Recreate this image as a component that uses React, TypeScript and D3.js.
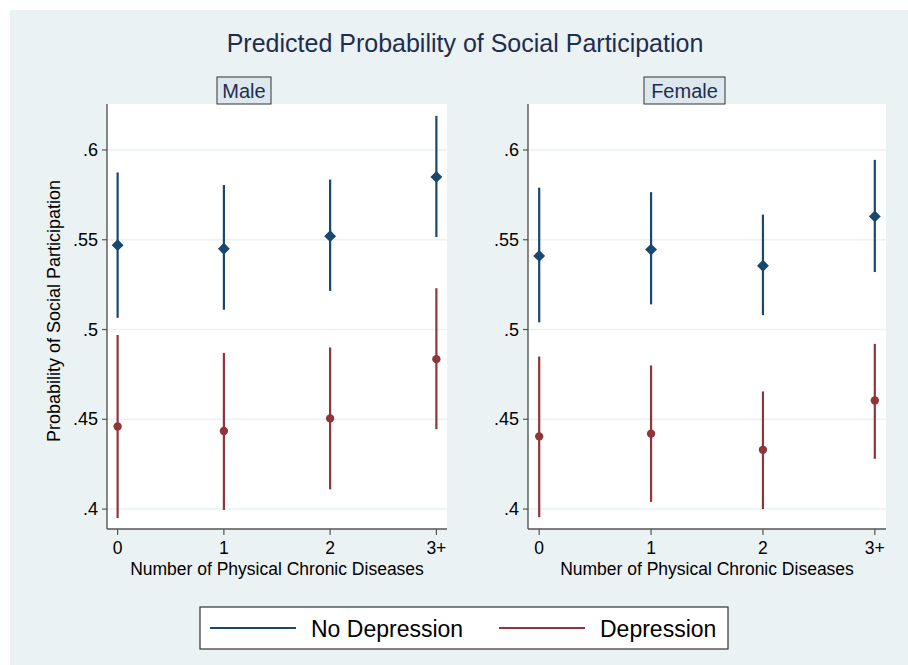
import React from "react";
import * as d3 from "d3";

// categories on the x axis
const categories = ["0", "1", "2", "3+"];
const yTicks = [0.4, 0.45, 0.5, 0.55, 0.6];
const yTickLabels = [".4", ".45", ".5", ".55", ".6"];

// Male
const maleNoDep = [0.547, 0.545, 0.552, 0.585];
const maleNoDepLo = [0.5065, 0.511, 0.5215, 0.5515];
const maleNoDepHi = [0.5875, 0.5805, 0.5835, 0.619];
const maleDep = [0.446, 0.4435, 0.4505, 0.4835];
const maleDepLo = [0.395, 0.3995, 0.411, 0.4445];
const maleDepHi = [0.497, 0.487, 0.49, 0.523];

// Female
const femaleNoDep = [0.541, 0.5445, 0.5355, 0.563];
const femaleNoDepLo = [0.504, 0.514, 0.508, 0.532];
const femaleNoDepHi = [0.579, 0.5765, 0.564, 0.5945];
const femaleDep = [0.4405, 0.442, 0.433, 0.4605];
const femaleDepLo = [0.3955, 0.404, 0.4, 0.428];
const femaleDepHi = [0.485, 0.48, 0.4655, 0.492];

const W = 908;
const H = 665;
const NAVY = "#1a476f";
const MAROON = "#90353b";
const BG = "#eaf2f3";
const FONT = "'Liberation Sans', Arial, sans-serif";

const panels = [
  {
    name: "Male",
    left: 107, right: 447, strip: 244, stripW: 54,
    series: [
      { est: maleNoDep, lo: maleNoDepLo, hi: maleNoDepHi, color: NAVY, shape: "diamond" },
      { est: maleDep, lo: maleDepLo, hi: maleDepHi, color: MAROON, shape: "circle" },
    ],
  },
  {
    name: "Female",
    left: 528, right: 886, strip: 684.5, stripW: 81,
    series: [
      { est: femaleNoDep, lo: femaleNoDepLo, hi: femaleNoDepHi, color: NAVY, shape: "diamond" },
      { est: femaleDep, lo: femaleDepLo, hi: femaleDepHi, color: MAROON, shape: "circle" },
    ],
  },
];

const top = 104;
const bottom = 529;
const y = d3.scaleLinear().domain([0.3889, 0.6256]).range([bottom, top]);

const diamond = d3.symbol().type(d3.symbolDiamond2).size(90)();
const circle = d3.symbol().type(d3.symbolCircle).size(55)();

function Panel({ p }: { p: any }) {
  const x = d3.scaleLinear().domain([-0.1, 3.1]).range([p.left, p.right]);
  return (
    <g>
      <rect x={p.left} y={top} width={p.right - p.left} height={bottom - top} fill="#fff" />
      {yTicks.map((t) => (
        <line key={t} x1={p.left} x2={p.right} y1={y(t)} y2={y(t)} stroke={BG} strokeWidth={1.6} />
      ))}
      {/* strip label */}
      <rect x={p.strip - p.stripW / 2} y={77} width={p.stripW} height={27} fill="#dce8ee" stroke="#333" strokeWidth={1} />
      <text x={p.strip} y={98} textAnchor="middle" fontSize={20} fill="#1f2d50" fontFamily={FONT}>{p.name}</text>
      {/* y axis */}
      <line x1={p.left} x2={p.left} y1={top} y2={bottom} stroke="#555" strokeWidth={1.4} />
      {yTicks.map((t, i) => (
        <g key={t}>
          <line x1={p.left - 5} x2={p.left} y1={y(t)} y2={y(t)} stroke="#555" strokeWidth={1.2} />
          <text x={p.left - 9} y={y(t) + 6} textAnchor="end" fontSize={18} fontFamily={FONT} fill="#000">{yTickLabels[i]}</text>
        </g>
      ))}
      {/* x axis */}
      <line x1={p.left} x2={p.right} y1={bottom} y2={bottom} stroke="#555" strokeWidth={1.4} />
      {categories.map((c, i) => (
        <g key={c}>
          <line x1={x(i)} x2={x(i)} y1={bottom} y2={bottom + 6} stroke="#555" strokeWidth={1.2} />
          <text x={x(i)} y={554} textAnchor="middle" fontSize={17.5} fontFamily={FONT} fill="#000">{c}</text>
        </g>
      ))}
      <text x={(p.left + p.right) / 2} y={575} textAnchor="middle" fontSize={17.5} fontFamily={FONT} fill="#000">
        Number of Physical Chronic Diseases
      </text>
      {p.series.map((s: any, si: number) => (
        <g key={si}>
          {s.est.map((v: number, i: number) => (
            <g key={i}>
              <line x1={x(i)} x2={x(i)} y1={y(s.lo[i])} y2={y(s.hi[i])} stroke={s.color} strokeWidth={2.2} />
              <path
                d={s.shape === "diamond" ? diamond : circle}
                transform={`translate(${x(i)},${y(v)})`}
                fill={s.color}
              />
            </g>
          ))}
        </g>
      ))}
    </g>
  );
}

export default function App() {
  return (
    <svg
      width={W}
      height={H}
      style={{ position: "absolute", left: 0, top: 0, display: "block" }}
    >
      <rect x={0} y={0} width={W} height={H} fill="#fff" />
      <rect x={10} y={10} width={W - 10} height={H - 10} fill={BG} />
      <text x={465} y={52} textAnchor="middle" fontSize={25} fontFamily={FONT} fill="#1f2d50">
        Predicted Probability of Social Participation
      </text>
      <text
        transform={`translate(${60},${311}) rotate(-90)`}
        textAnchor="middle"
        fontSize={18}
        fontFamily={FONT}
        fill="#000"
      >
        Probability of Social Participation
      </text>
      {panels.map((p) => (
        <Panel key={p.name} p={p} />
      ))}
      {/* legend */}
      <rect x={200} y={607} width={528} height={42} fill="#fff" stroke="#333" strokeWidth={1.2} />
      <line x1={210} x2={296} y1={628} y2={628} stroke={NAVY} strokeWidth={2} />
      <text x={311} y={637} fontSize={23} fontFamily={FONT} fill="#000">No Depression</text>
      <line x1={499} x2={585} y1={628} y2={628} stroke={MAROON} strokeWidth={2} />
      <text x={600} y={637} fontSize={23} fontFamily={FONT} fill="#000">Depression</text>
    </svg>
  );
}
